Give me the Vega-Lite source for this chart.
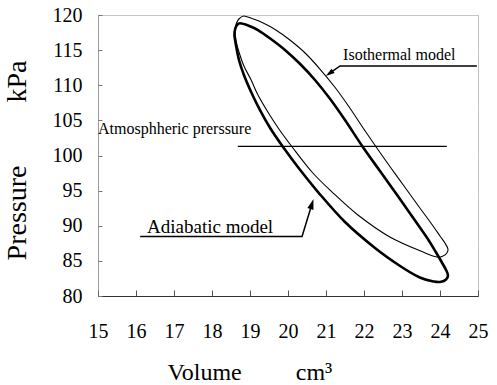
{
  "$schema": "https://vega.github.io/schema/vega-lite/v6.json",
  "width": 380,
  "height": 281,
  "autosize": {"type": "none"},
  "padding": {"left": 98, "top": 15, "right": 19, "bottom": 89},
  "background": "white",
  "config": {
    "view": {"stroke": "#888", "strokeDash": [1, 1], "strokeWidth": 1},
    "font": "Liberation Serif"
  },
  "datasets": {
    "loops": [
      {"model": "adiabatic", "i": 1, "v": 18.74, "p": 118.82},
      {"model": "adiabatic", "i": 2, "v": 18.95, "p": 118.51},
      {"model": "adiabatic", "i": 3, "v": 19.21, "p": 117.86},
      {"model": "adiabatic", "i": 4, "v": 19.55, "p": 116.58},
      {"model": "adiabatic", "i": 5, "v": 19.92, "p": 115.02},
      {"model": "adiabatic", "i": 6, "v": 20.32, "p": 113.02},
      {"model": "adiabatic", "i": 7, "v": 20.71, "p": 110.75},
      {"model": "adiabatic", "i": 8, "v": 21.11, "p": 108.04},
      {"model": "adiabatic", "i": 9, "v": 21.5, "p": 105.05},
      {"model": "adiabatic", "i": 10, "v": 21.97, "p": 101.21},
      {"model": "adiabatic", "i": 11, "v": 22.42, "p": 97.79},
      {"model": "adiabatic", "i": 12, "v": 22.89, "p": 94.23},
      {"model": "adiabatic", "i": 13, "v": 23.37, "p": 90.53},
      {"model": "adiabatic", "i": 14, "v": 23.68, "p": 88.11},
      {"model": "adiabatic", "i": 15, "v": 23.89, "p": 86.26},
      {"model": "adiabatic", "i": 16, "v": 24.05, "p": 84.77},
      {"model": "adiabatic", "i": 17, "v": 24.16, "p": 83.7},
      {"model": "adiabatic", "i": 18, "v": 24.21, "p": 82.92},
      {"model": "adiabatic", "i": 19, "v": 24.16, "p": 82.35},
      {"model": "adiabatic", "i": 20, "v": 24.03, "p": 82.02},
      {"model": "adiabatic", "i": 21, "v": 23.84, "p": 82.06},
      {"model": "adiabatic", "i": 22, "v": 23.47, "p": 82.63},
      {"model": "adiabatic", "i": 23, "v": 22.95, "p": 84.27},
      {"model": "adiabatic", "i": 24, "v": 22.29, "p": 86.83},
      {"model": "adiabatic", "i": 25, "v": 21.5, "p": 90.53},
      {"model": "adiabatic", "i": 26, "v": 20.79, "p": 94.8},
      {"model": "adiabatic", "i": 27, "v": 20.32, "p": 97.94},
      {"model": "adiabatic", "i": 28, "v": 19.87, "p": 101.21},
      {"model": "adiabatic", "i": 29, "v": 19.53, "p": 103.91},
      {"model": "adiabatic", "i": 30, "v": 19.26, "p": 106.48},
      {"model": "adiabatic", "i": 31, "v": 19.03, "p": 109.04},
      {"model": "adiabatic", "i": 32, "v": 18.84, "p": 111.46},
      {"model": "adiabatic", "i": 33, "v": 18.71, "p": 113.59},
      {"model": "adiabatic", "i": 34, "v": 18.63, "p": 115.73},
      {"model": "adiabatic", "i": 35, "v": 18.59, "p": 117.15},
      {"model": "adiabatic", "i": 36, "v": 18.61, "p": 118.01},
      {"model": "adiabatic", "i": 37, "v": 18.66, "p": 118.58},
      {"model": "isothermal", "i": 1, "v": 18.84, "p": 119.86},
      {"model": "isothermal", "i": 2, "v": 19.05, "p": 119.5},
      {"model": "isothermal", "i": 3, "v": 19.32, "p": 118.93},
      {"model": "isothermal", "i": 4, "v": 19.66, "p": 117.94},
      {"model": "isothermal", "i": 5, "v": 20.05, "p": 116.44},
      {"model": "isothermal", "i": 6, "v": 20.45, "p": 114.59},
      {"model": "isothermal", "i": 7, "v": 20.84, "p": 112.31},
      {"model": "isothermal", "i": 8, "v": 21.24, "p": 109.68},
      {"model": "isothermal", "i": 9, "v": 21.61, "p": 106.9},
      {"model": "isothermal", "i": 10, "v": 21.95, "p": 104.13},
      {"model": "isothermal", "i": 11, "v": 22.32, "p": 101.21},
      {"model": "isothermal", "i": 12, "v": 22.71, "p": 98.22},
      {"model": "isothermal", "i": 13, "v": 23.11, "p": 95.23},
      {"model": "isothermal", "i": 14, "v": 23.47, "p": 92.53},
      {"model": "isothermal", "i": 15, "v": 23.76, "p": 90.39},
      {"model": "isothermal", "i": 16, "v": 24.0, "p": 88.54},
      {"model": "isothermal", "i": 17, "v": 24.13, "p": 87.54},
      {"model": "isothermal", "i": 18, "v": 24.21, "p": 86.69},
      {"model": "isothermal", "i": 19, "v": 24.18, "p": 86.12},
      {"model": "isothermal", "i": 20, "v": 24.08, "p": 85.69},
      {"model": "isothermal", "i": 21, "v": 23.92, "p": 85.55},
      {"model": "isothermal", "i": 22, "v": 23.61, "p": 86.12},
      {"model": "isothermal", "i": 23, "v": 22.68, "p": 88.4},
      {"model": "isothermal", "i": 24, "v": 21.84, "p": 91.53},
      {"model": "isothermal", "i": 25, "v": 21.16, "p": 94.8},
      {"model": "isothermal", "i": 26, "v": 20.63, "p": 97.65},
      {"model": "isothermal", "i": 27, "v": 20.11, "p": 101.21},
      {"model": "isothermal", "i": 28, "v": 19.76, "p": 103.77},
      {"model": "isothermal", "i": 29, "v": 19.47, "p": 106.19},
      {"model": "isothermal", "i": 30, "v": 19.21, "p": 108.61},
      {"model": "isothermal", "i": 31, "v": 19.03, "p": 110.75},
      {"model": "isothermal", "i": 32, "v": 18.84, "p": 112.74},
      {"model": "isothermal", "i": 33, "v": 18.71, "p": 114.73},
      {"model": "isothermal", "i": 34, "v": 18.63, "p": 116.44},
      {"model": "isothermal", "i": 35, "v": 18.61, "p": 117.72},
      {"model": "isothermal", "i": 36, "v": 18.64, "p": 118.79},
      {"model": "isothermal", "i": 37, "v": 18.72, "p": 119.5}
    ],
    "leaders": [
      {"g": "iso", "i": 1, "v": 24.97, "p": 112.74},
      {"g": "iso", "i": 2, "v": 21.37, "p": 112.74},
      {"g": "iso", "i": 3, "v": 21.09, "p": 111.68},
      {"g": "adi", "i": 1, "v": 16.11, "p": 88.47},
      {"g": "adi", "i": 2, "v": 20.37, "p": 88.47},
      {"g": "adi", "i": 3, "v": 20.63, "p": 93.1}
    ]
  },
  "encoding": {
    "x": {
      "field": "v",
      "type": "quantitative",
      "scale": {"domain": [15, 25], "nice": false, "zero": false},
      "axis": {
        "values": [15, 16, 17, 18, 19, 20, 21, 22, 23, 24, 25],
        "grid": false,
        "tickSize": -6,
        "tickColor": "#555",
        "domainColor": "#333",
        "labelFont": "Liberation Serif",
        "labelFontSize": 20,
        "labelColor": "black",
        "labelPadding": 31,
        "labelFlush": false,
        "labelOverlap": false,
        "title": "Volume\u00a0\u00a0\u00a0\u00a0\u00a0\u00a0\u00a0\u00a0\u00a0cm³",
        "titleFont": "Liberation Serif",
        "titleFontSize": 24,
        "titleFontWeight": "normal",
        "titleColor": "black",
        "titleX": 69,
        "titleY": 83,
        "titleAlign": "left",
        "titleBaseline": "alphabetic"
      }
    },
    "y": {
      "field": "p",
      "type": "quantitative",
      "scale": {"domain": [80, 120], "nice": false, "zero": false},
      "axis": {
        "values": [80, 85, 90, 95, 100, 105, 110, 115, 120],
        "grid": false,
        "tickSize": -4,
        "tickColor": "#777",
        "domainColor": "#777",
        "domainDash": [1, 1],
        "labelFont": "Liberation Serif",
        "labelFontSize": 20,
        "labelColor": "black",
        "labelPadding": 20,
        "labelFlush": false,
        "labelOverlap": false,
        "title": "Pressure\u00a0\u00a0\u00a0\u00a0\u00a0\u00a0\u00a0\u00a0\u00a0kPa",
        "titleFont": "Liberation Serif",
        "titleFontSize": 28,
        "titleFontWeight": "normal",
        "titleColor": "black",
        "titleAngle": -90,
        "titleX": -73,
        "titleY": 145,
        "titleAlign": "center",
        "titleBaseline": "alphabetic"
      }
    }
  },
  "layer": [
    {
      "data": {"name": "loops"},
      "transform": [{"filter": "datum.model === 'isothermal'"}],
      "mark": {"type": "line", "interpolate": "cardinal-closed", "stroke": "black", "strokeWidth": 1.1},
      "encoding": {"order": {"field": "i", "type": "quantitative"}}
    },
    {
      "data": {"name": "loops"},
      "transform": [{"filter": "datum.model === 'adiabatic'"}],
      "mark": {"type": "line", "interpolate": "cardinal-closed", "stroke": "black", "strokeWidth": 2.6},
      "encoding": {"order": {"field": "i", "type": "quantitative"}}
    },
    {
      "data": {"values": [{"v": 18.68, "v2": 24.18, "p": 101.3}]},
      "mark": {"type": "rule", "stroke": "black", "strokeWidth": 1.3},
      "encoding": {"x2": {"field": "v2"}}
    },
    {
      "data": {"name": "leaders"},
      "mark": {"type": "line", "stroke": "black", "strokeWidth": 1.5},
      "encoding": {
        "detail": {"field": "g", "type": "nominal"},
        "order": {"field": "i", "type": "quantitative"}
      }
    },
    {
      "data": {"values": [{"v": 21.09, "p": 111.68}]},
      "mark": {"type": "point", "shape": "M0,-1L0.6,1L-0.6,1Z", "filled": true, "color": "black", "size": 80, "angle": 234.5, "opacity": 1}
    },
    {
      "data": {"values": [{"v": 20.63, "p": 93.1}]},
      "mark": {"type": "point", "shape": "M0,-1L0.6,1L-0.6,1Z", "filled": true, "color": "black", "size": 110, "angle": 17, "opacity": 1}
    },
    {
      "data": {"values": [{"label": "Atmosphheric prerssure", "v": 15.0, "p": 103.13}]},
      "mark": {"type": "text", "font": "Liberation Serif", "fontSize": 16, "align": "left", "baseline": "alphabetic", "color": "black"},
      "encoding": {"text": {"field": "label"}}
    },
    {
      "data": {"values": [{"label": "Isothermal model", "v": 21.45, "p": 113.59}]},
      "mark": {"type": "text", "font": "Liberation Serif", "fontSize": 16, "align": "left", "baseline": "alphabetic", "color": "black"},
      "encoding": {"text": {"field": "label"}}
    },
    {
      "data": {"values": [{"label": "Adiabatic model", "v": 16.29, "p": 88.93}]},
      "mark": {"type": "text", "font": "Liberation Serif", "fontSize": 19, "align": "left", "baseline": "alphabetic", "color": "black"},
      "encoding": {"text": {"field": "label"}}
    }
  ]
}
